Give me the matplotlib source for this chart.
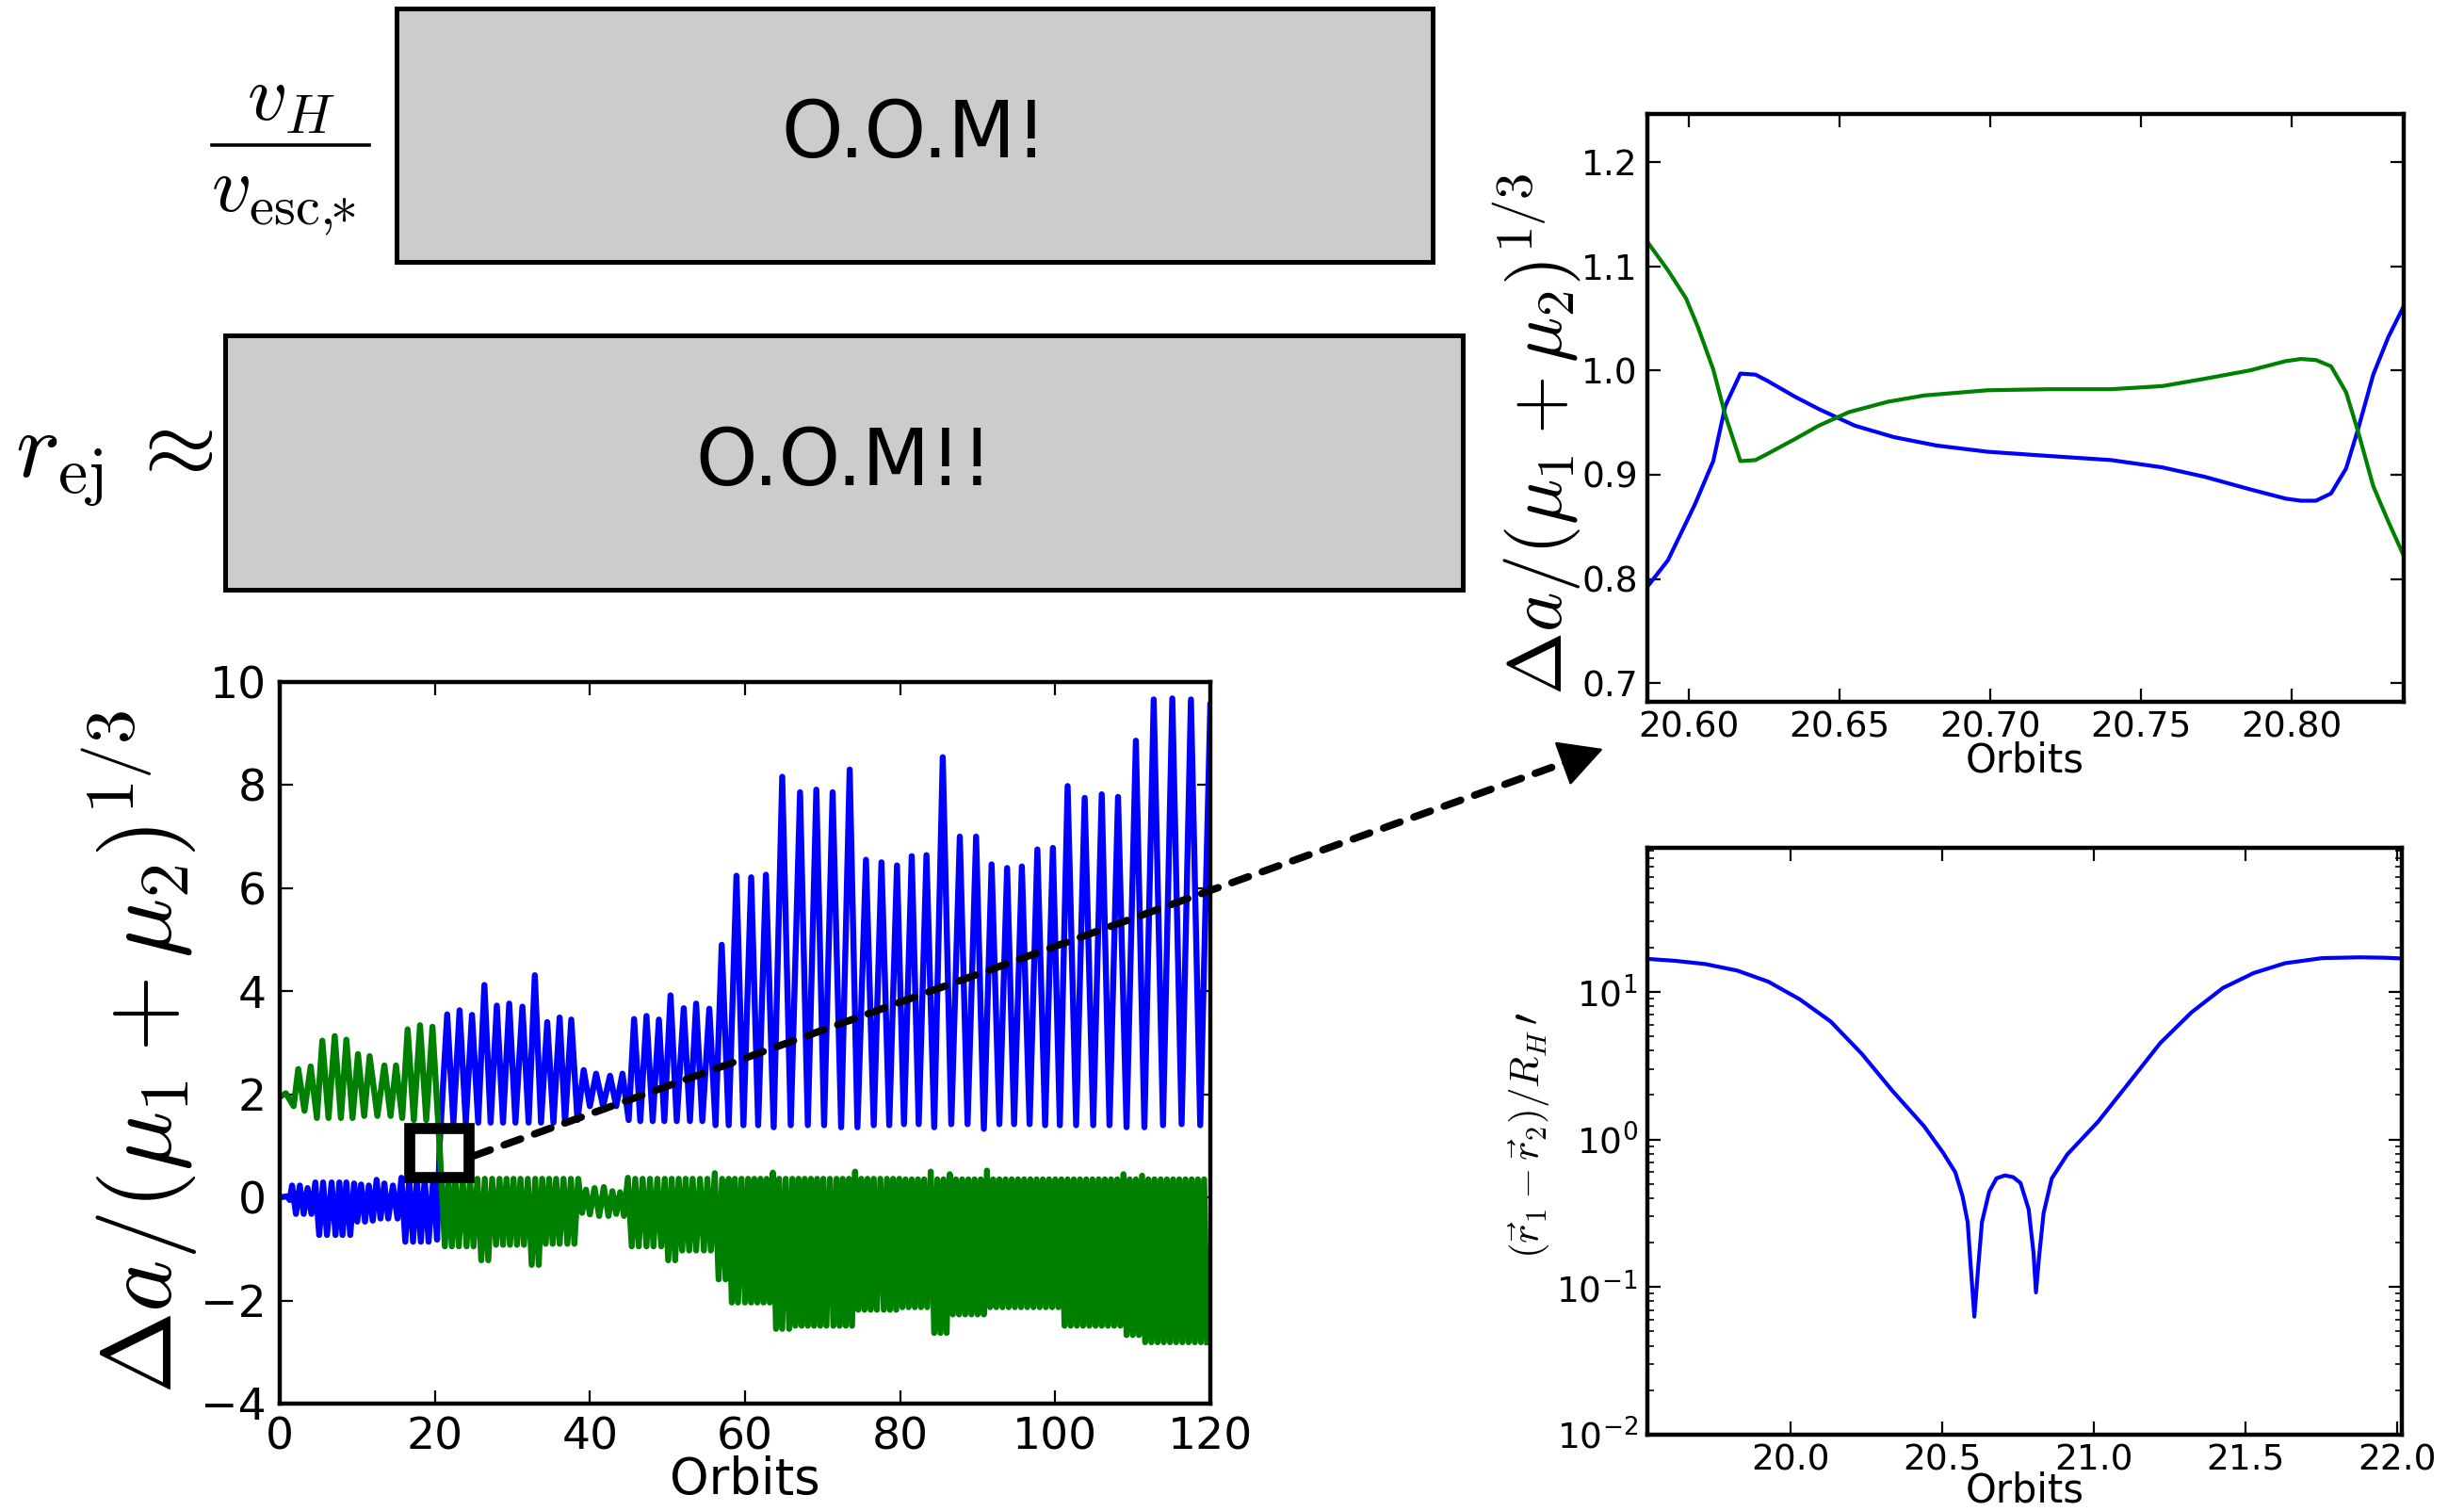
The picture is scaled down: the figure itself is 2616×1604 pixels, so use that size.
import numpy as np
import matplotlib.pyplot as plt
from matplotlib.patches import Rectangle
from matplotlib.lines import Line2D
from matplotlib.ticker import FormatStrFormatter

plt.rcParams['font.family'] = ['DejaVu Sans']
plt.rcParams['mathtext.fontset'] = 'cm'

BLUE = '#0000ff'
GREEN = '#008000'

# ---------------- main panel: turning points ----------------
# blue: lower band until the swap near 20.6 orbits
blue_t = [0.0, 1.0, 1.3,
          1.6, 2.1, 2.6, 3.1, 3.6, 4.1, 4.6, 5.1, 5.6, 6.1, 6.7, 7.2, 7.7, 8.1, 8.6, 9.1, 9.6, 10.0,
          10.5, 11.0, 11.5, 12.0, 12.5, 13.0, 13.5, 14.0, 14.6, 15.2, 15.7, 16.2, 16.7, 17.2, 17.7, 18.2,
          18.7, 19.2, 19.8, 20.3, 20.62]
blue_v = [0.0, 0.02, -0.05,
          0.23, -0.32, 0.23, -0.32, 0.18, -0.32, 0.29, -0.73, 0.29, -0.73, 0.29, -0.73, 0.29, -0.73,
          0.29, -0.73, 0.27, -0.47,
          0.25, -0.47, 0.23, -0.45, 0.34, -0.41, 0.27, -0.41, 0.23, -0.41, 0.38, -0.86, 0.36, -0.86, 0.36, -0.86,
          0.36, -0.86, 0.36, -0.82, 1.0]
# blue: upper band afterwards
blue_hi_peak_t = [21.6, 23.2, 24.8, 26.4, 28.0, 29.6, 31.3, 32.9, 34.5, 36.1, 37.6, 39.2, 40.8, 42.6,
                  44.2, 45.7, 47.3, 48.9, 50.4, 52.1, 53.7, 55.4, 57.0, 58.9, 60.8, 62.7, 64.8, 67.1,
                  69.2, 71.3, 73.5, 75.6, 77.6, 79.6, 81.5, 83.4, 85.5, 87.7, 89.8, 91.8, 93.8, 95.7,
                  97.7, 99.7, 101.6, 103.8, 106.0, 108.1, 110.4, 112.7, 115.1, 117.5, 120.0]
blue_hi_peak_v = [3.55, 3.63, 3.54, 4.12, 3.72, 3.76, 3.70, 4.31, 3.40, 3.49, 3.45, 2.47, 2.40, 2.36,
                  2.40, 3.46, 3.52, 3.45, 3.92, 3.67, 3.76, 3.66, 4.90, 6.24, 6.21, 6.26, 8.16, 7.86,
                  7.91, 7.86, 8.30, 6.55, 6.50, 6.44, 6.62, 6.64, 8.54, 7.00, 7.00, 6.46, 6.39, 6.42,
                  6.75, 6.78, 7.98, 7.75, 7.82, 7.77, 8.86, 9.66, 9.68, 9.66, 9.55]
blue_hi_trough_t = [22.4, 24.0, 25.6, 27.2, 28.8, 30.4, 32.1, 33.7, 35.3, 36.8, 38.4, 40.0, 41.7, 43.4,
                    45.0, 46.5, 48.1, 49.6, 51.2, 52.9, 54.5, 56.2, 57.9, 59.8, 61.7, 63.7, 65.9, 68.1,
                    70.2, 72.4, 74.5, 76.6, 78.6, 80.5, 82.4, 84.4, 86.6, 88.7, 90.8, 92.8, 94.7, 96.7,
                    98.7, 100.6, 102.7, 104.9, 107.0, 109.2, 111.5, 113.9, 116.3, 118.7]
blue_hi_trough_v = [1.45, 1.45, 1.45, 1.45, 1.45, 1.45, 1.45, 1.45, 1.45, 1.45, 1.50, 1.77, 1.77, 1.77,
                    1.50, 1.48, 1.48, 1.48, 1.48, 1.48, 1.48, 1.40, 1.40, 1.40, 1.40, 1.36, 1.40, 1.40,
                    1.40, 1.36, 1.36, 1.40, 1.40, 1.42, 1.42, 1.36, 1.42, 1.42, 1.33, 1.42, 1.42, 1.42,
                    1.40, 1.40, 1.40, 1.40, 1.40, 1.36, 1.36, 1.40, 1.42, 1.40]

# green: upper band until the swap
green_t = [0.0, 0.8, 1.8, 2.4, 3.2, 4.0, 4.8, 5.5, 6.3, 7.1, 7.9, 8.6, 9.4, 10.1, 10.9, 11.6, 12.6,
           13.5, 14.3, 15.0, 15.8, 16.5, 17.3, 18.1, 18.9, 19.7, 20.6]
green_v = [1.95, 2.02, 1.77, 2.49, 1.68, 2.54, 1.54, 3.04, 1.54, 3.13, 1.54, 3.06, 1.54, 2.78, 1.58,
           2.74, 1.58, 2.56, 1.58, 2.56, 1.54, 3.26, 1.50, 3.34, 1.50, 3.31, 1.05]
# green: lower band afterwards (troughs, crests sit between them)
green_lo_t = [21.3, 22.2, 23.1, 24.1, 25.0, 26.0, 26.9, 27.9, 28.8, 29.7, 30.6, 31.5, 32.5, 33.4,
              34.3, 35.2, 36.1, 37.1, 38.0,
              39.0, 40.0, 41.2, 42.4, 43.4, 44.4,
              45.4, 46.3, 47.3, 48.2, 49.2, 50.1, 51.0, 51.9, 52.8, 53.7, 54.7, 55.6, 56.6, 57.5,
              58.3, 59.1, 60.0, 60.8, 61.6, 62.4, 63.2, 64.0, 64.8, 65.7, 66.5, 67.3, 68.1, 68.9,
              69.7, 70.5, 71.4, 72.2, 73.0, 73.8, 74.6, 75.4, 76.2, 77.0, 77.9, 78.7, 79.5,
              80.3, 81.1, 81.9, 82.7, 83.5, 84.4, 85.2, 86.0, 86.8, 87.6, 88.4, 89.2, 90.0, 90.8,
              91.6, 92.4, 93.2, 94.0, 94.8, 95.6, 96.4, 97.2, 98.0, 98.8, 99.6, 100.4,
              101.2, 102.0, 102.8, 103.6, 104.4, 105.2, 106.0, 106.8, 107.6, 108.4, 109.2, 110.0, 110.8,
              111.6, 112.4, 113.2, 114.0, 114.8, 115.6, 116.4, 117.2, 118.0, 118.8, 119.6]
green_lo_v = [-0.95, -0.95, -0.95, -0.95, -0.95, -1.22, -1.22, -0.92, -0.92, -0.92, -0.92, -0.92,
              -1.31, -1.31, -0.90, -0.90, -0.90, -0.90, -0.90,
              -0.30, -0.33, -0.36, -0.36, -0.32, -0.36,
              -0.95, -0.95, -0.95, -0.95, -0.95, -1.22, -1.22, -1.03, -1.03, -1.03, -1.03, -1.03, -1.59, -1.59,
              -2.04, -2.04, -2.04, -2.04, -2.04, -2.04, -2.04, -2.55, -2.55, -2.55, -2.49, -2.49, -2.49, -2.49,
              -2.49, -2.49, -2.49, -2.49, -2.49, -2.49, -2.18, -2.18, -2.18, -2.18, -2.18, -2.18, -2.18,
              -2.13, -2.13, -2.13, -2.13, -2.13, -2.63, -2.63, -2.63, -2.27, -2.27, -2.27, -2.27, -2.27, -2.27,
              -2.13, -2.13, -2.13, -2.13, -2.13, -2.13, -2.13, -2.13, -2.13, -2.13, -2.13, -2.13,
              -2.49, -2.49, -2.49, -2.49, -2.49, -2.49, -2.49, -2.49, -2.49, -2.49, -2.67, -2.67, -2.67,
              -2.81, -2.81, -2.81, -2.81, -2.81, -2.81, -2.81, -2.81, -2.81, -2.81, -2.81]
green_crest_v = [0.36, 0.38, 0.36, 0.36, 0.36, 0.36, 0.36, 0.36, 0.36, 0.36, 0.36, 0.36, 0.36, 0.36,
                 0.36, 0.36, 0.36, 0.36,
                 0.36,
                 0.15, 0.18, 0.20, 0.12, 0.10,
                 0.38,
                 0.36, 0.36, 0.36, 0.36, 0.36, 0.36, 0.36, 0.36, 0.36, 0.36, 0.36, 0.47,
                 0.36, 0.36, 0.36, 0.36, 0.36, 0.36, 0.36, 0.36, 0.48,
                 0.36, 0.36, 0.36, 0.36, 0.36, 0.36, 0.36, 0.36, 0.36, 0.36, 0.36, 0.36, 0.50,
                 0.36, 0.36, 0.36, 0.36, 0.36, 0.36,
                 0.36,
                 0.35, 0.35, 0.35, 0.35, 0.50, 0.35, 0.35, 0.45,
                 0.35, 0.35, 0.35, 0.35, 0.35, 0.52,
                 0.35, 0.35, 0.35, 0.35, 0.35, 0.35, 0.35, 0.35, 0.35, 0.35, 0.35, 0.35, 0.35, 0.35,
                 0.35, 0.35, 0.35, 0.35, 0.35, 0.35, 0.35, 0.45, 0.35, 0.35, 0.42,
                 0.35, 0.35, 0.35, 0.35, 0.35, 0.35, 0.35, 0.35, 0.35, 0.35]

# ---------------- zoom on the close encounter ----------------
zoom_blue_t = [20.586, 20.593, 20.602, 20.608, 20.612, 20.617, 20.622, 20.626, 20.635, 20.643,
               20.655, 20.668, 20.682, 20.699, 20.719, 20.740, 20.757, 20.771, 20.786, 20.798,
               20.803, 20.808, 20.813, 20.818, 20.822, 20.827, 20.832, 20.837]
zoom_blue_v = [0.792, 0.818, 0.872, 0.913, 0.966, 0.997, 0.996, 0.990, 0.975, 0.963,
               0.947, 0.936, 0.928, 0.922, 0.918, 0.914, 0.907, 0.898, 0.886, 0.877,
               0.875, 0.875, 0.882, 0.906, 0.944, 0.996, 1.032, 1.061]
zoom_green_t = [20.586, 20.593, 20.599, 20.603, 20.608, 20.612, 20.617, 20.622, 20.626, 20.635,
                20.643, 20.653, 20.666, 20.678, 20.699, 20.719, 20.740, 20.757, 20.771, 20.786,
                20.798, 20.803, 20.808, 20.813, 20.818, 20.822, 20.827, 20.832, 20.837]
zoom_green_v = [1.124, 1.096, 1.069, 1.041, 1.001, 0.957, 0.913, 0.914, 0.920, 0.934,
                0.947, 0.960, 0.970, 0.976, 0.981, 0.982, 0.982, 0.985, 0.992, 1.000,
                1.009, 1.011, 1.010, 1.004, 0.979, 0.941, 0.889, 0.855, 0.823]

# ---------------- separation in Hill radii ----------------
sep_t = [19.528, 19.62, 19.72, 19.826, 19.928, 20.031, 20.133, 20.236, 20.338, 20.441,
         20.503, 20.544, 20.568, 20.585, 20.595, 20.607, 20.62, 20.632, 20.656, 20.68,
         20.708, 20.735, 20.759, 20.786, 20.802, 20.81, 20.82, 20.835, 20.862, 20.913,
         21.015, 21.118, 21.22, 21.323, 21.426, 21.528, 21.631, 21.754, 21.877, 21.959, 22.016]
sep_v = [16.7, 16.2, 15.4, 13.9, 11.7, 8.9, 6.3, 3.8, 2.12, 1.23,
         0.818, 0.60, 0.413, 0.275, 0.139, 0.063, 0.139, 0.275, 0.443, 0.545,
         0.570, 0.555, 0.507, 0.336, 0.170, 0.092, 0.158, 0.315, 0.543, 0.79,
         1.32, 2.44, 4.5, 7.26, 10.6, 13.4, 15.6, 16.9, 17.1, 17.0, 16.8]


def style(a, size, pad):
    a.tick_params(direction='in', top=True, right=True, labelsize=size,
                  length=5, width=0.8, pad=pad)
    a.tick_params(which='minor', direction='in', top=True, right=True,
                  length=2.5, width=0.6)
    for s in a.spines.values():
        s.set_linewidth(1.6)


# assemble the full curves of the main panel
hi = sorted(zip(blue_hi_peak_t + blue_hi_trough_t, blue_hi_peak_v + blue_hi_trough_v))
bt = blue_t + [p[0] for p in hi]
bv = blue_v + [p[1] for p in hi]

gt = list(green_t)
gv = list(green_v)
for i in range(len(green_lo_t)):
    gt.append(green_lo_t[i])
    gv.append(green_lo_v[i])
    if i < len(green_crest_v):
        gt.append((green_lo_t[i] + green_lo_t[i + 1]) / 2)
        gv.append(green_crest_v[i])

W, H = 2616, 1604
fig = plt.figure(figsize=(W / 200, H / 200), dpi=200)

# grey boxes on top
boxes = [((0.1609, 0.8267, 0.4205, 0.1677), 'O.O.M!'),
         ((0.0914, 0.6097, 0.5023, 0.1683), 'O.O.M!!')]
for (x0, y0, w, h), txt in boxes:
    fig.add_artist(Rectangle((x0, y0), w, h, transform=fig.transFigure,
                             facecolor='#cccccc', edgecolor='k', lw=1.8))
    fig.text(x0 + w / 2, y0 + h / 2, txt, ha='center', va='center', fontsize=30)

# v_H / v_esc,* written as a stacked fraction
fig.text(0.118, 0.935, r'$v_H$', fontsize=30, ha='center', va='center')
fig.add_artist(Line2D([0.0861, 0.1498], [0.9043, 0.9043], transform=fig.transFigure,
                      color='k', lw=1.3))
fig.text(0.1148, 0.868, r'$v_{\mathrm{esc},\!\!\!*}$', fontsize=30,
         ha='center', va='center')
fig.text(0.0463, 0.6945, r'$r_{\rm ej}\,\approx$', fontsize=36,
         ha='center', va='center')

# main panel
ax = fig.add_axes([0.1135, 0.0711, 0.3777, 0.4776])
ax.plot(bt, bv, color=BLUE, lw=2.3)
ax.plot(gt, gv, color=GREEN, lw=2.3)
ax.set_xlim(0, 120)
ax.set_ylim(-4, 10)
ax.set_xticks(np.arange(0, 121, 20))
ax.set_yticks(np.arange(-4, 11, 2))
style(ax, 17, 5)
ax.set_xlabel('Orbits', fontsize=19)
ax.xaxis.set_label_coords(0.5, -0.072)
fig.text(0.0567, 0.304, r'$\Delta a/(\mu_1+\mu_2)^{1/3}$', fontsize=38,
         rotation=90, ha='center', va='center')

ax.add_patch(Rectangle((16.8, 0.38), 7.65, 0.95, fill=False, edgecolor='k',
                       lw=4.2, zorder=5))

# dashed pointer from the box to the zoom panel, solid head at the end
start_px = np.array([503.0, H - 1227.0])
tip_px = np.array([1702.0, H - 795.0])
u = (tip_px - start_px) / np.hypot(*(tip_px - start_px))
back_px = tip_px - 30 * u
start, back, tip = start_px / [W, H], back_px / [W, H], tip_px / [W, H]
ax.annotate('', xy=back, xycoords='figure fraction',
            xytext=start, textcoords='figure fraction', annotation_clip=False,
            arrowprops=dict(arrowstyle='-', linestyle=(0, (2.4, 2.0)), lw=2.8,
                            color='k', shrinkA=0, shrinkB=0))
ax.annotate('', xy=tip, xycoords='figure fraction',
            xytext=back, textcoords='figure fraction', annotation_clip=False,
            arrowprops=dict(arrowstyle='-|>,head_length=0.75,head_width=0.4',
                            lw=1.0, color='k', shrinkA=0, shrinkB=0,
                            mutation_scale=20))

# zoom inset
ax1 = fig.add_axes([0.6684, 0.5355, 0.3070, 0.3890])
ax1.plot(zoom_blue_t, zoom_blue_v, color=BLUE, lw=1.5)
ax1.plot(zoom_green_t, zoom_green_v, color=GREEN, lw=1.5)
ax1.set_xlim(20.586, 20.837)
ax1.set_ylim(0.682, 1.246)
ax1.set_xticks([20.60, 20.65, 20.70, 20.75, 20.80])
ax1.set_yticks([0.7, 0.8, 0.9, 1.0, 1.1, 1.2])
ax1.xaxis.set_major_formatter(FormatStrFormatter('%.2f'))
ax1.yaxis.set_major_formatter(FormatStrFormatter('%.1f'))
style(ax1, 13.5, 3.5)
ax1.set_xlabel('Orbits', fontsize=15)
ax1.xaxis.set_label_coords(0.5, -0.066)
fig.text(0.6235, 0.713, r'$\Delta a/(\mu_1+\mu_2)^{1/3}$', fontsize=29,
         rotation=90, ha='center', va='center')

# separation inset
ax2 = fig.add_axes([0.6684, 0.0505, 0.3064, 0.3887])
ax2.plot(sep_t, sep_v, color=BLUE, lw=1.5)
ax2.set_yscale('log')
ax2.set_xlim(19.528, 22.016)
ax2.set_ylim(0.01, 95)
ax2.set_xticks([20.0, 20.5, 21.0, 21.5, 22.0])
ax2.xaxis.set_major_formatter(FormatStrFormatter('%.1f'))
style(ax2, 13.5, 3.5)
ax2.set_xlabel('Orbits', fontsize=15)
ax2.xaxis.set_label_coords(0.5, -0.062)
fig.text(0.621, 0.249, r'$(\vec{r}_1-\vec{r}_2)/R_H\,\prime$', fontsize=15.5,
         rotation=90, ha='center', va='center')

fig.savefig('out.png', dpi=200)
